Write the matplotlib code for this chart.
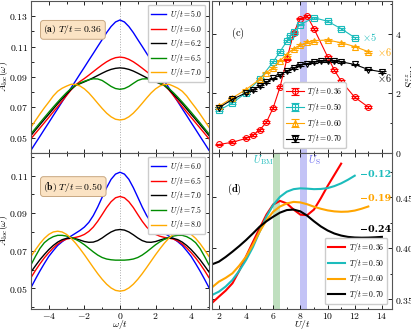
import numpy as np
import matplotlib
matplotlib.use("Agg")
import matplotlib.pyplot as plt
from matplotlib.ticker import MultipleLocator, FixedLocator, FuncFormatter

plt.rcParams['mathtext.fontset'] = 'cm'
plt.rcParams['font.family'] = 'DejaVu Serif'

# ---------- data ----------
# spectral functions, half of the (symmetric) curve, w >= 0
w_half = [0, 0.25, 0.5, 0.75, 1.0, 1.25, 1.5, 1.75, 2.0, 2.25, 2.5,
          2.75, 3.0, 3.25, 3.5, 3.75, 4.0, 4.25, 4.5, 4.75, 5.0]

a_U = ["5.0", "6.0", "6.2", "6.5", "7.0"]
a_A = [
    [0.1275, 0.1262, 0.1232, 0.1192, 0.1146, 0.1101, 0.1055, 0.1010, 0.0964, 0.0919, 0.0873,
     0.0828, 0.0782, 0.0737, 0.0691, 0.0646, 0.0600, 0.0555, 0.0509, 0.0464, 0.0418],
    [0.1031, 0.1027, 0.1016, 0.1000, 0.0980, 0.0958, 0.0935, 0.0912, 0.0890, 0.0870, 0.0847,
     0.0815, 0.0778, 0.0741, 0.0705, 0.0670, 0.0634, 0.0599, 0.0564, 0.0529, 0.0494],
    [0.0960, 0.0957, 0.0950, 0.0939, 0.0925, 0.0910, 0.0895, 0.0881, 0.0868, 0.0856, 0.0843,
     0.0818, 0.0788, 0.0757, 0.0724, 0.0690, 0.0655, 0.0621, 0.0586, 0.0551, 0.0515],
    [0.0819, 0.0824, 0.0838, 0.0858, 0.0877, 0.0887, 0.0888, 0.0882, 0.0872, 0.0860, 0.0846,
     0.0824, 0.0797, 0.0767, 0.0735, 0.0702, 0.0668, 0.0633, 0.0598, 0.0562, 0.0526],
    [0.0617, 0.0622, 0.0638, 0.0662, 0.0693, 0.0727, 0.0762, 0.0795, 0.0822, 0.0841, 0.0851,
     0.0852, 0.0840, 0.0826, 0.0806, 0.0775, 0.0735, 0.0697, 0.0656, 0.0613, 0.0570],
]

b_U = ["6.0", "6.5", "7.0", "7.5", "8.0"]
b_A = [
    [0.1118, 0.1108, 0.1080, 0.1036, 0.0985, 0.0933, 0.0887, 0.0851, 0.0826, 0.0808, 0.0793,
     0.0778, 0.0765, 0.0748, 0.0728, 0.0700, 0.0670, 0.0632, 0.0592, 0.0549, 0.0504],
    [0.0989, 0.0982, 0.0961, 0.0930, 0.0893, 0.0857, 0.0826, 0.0803, 0.0787, 0.0777, 0.0771,
     0.0767, 0.0762, 0.0752, 0.0736, 0.0715, 0.0690, 0.0662, 0.0630, 0.0595, 0.0557],
    [0.0813, 0.0810, 0.0800, 0.0785, 0.0768, 0.0754, 0.0746, 0.0745, 0.0749, 0.0757, 0.0764,
     0.0767, 0.0766, 0.0759, 0.0746, 0.0728, 0.0706, 0.0680, 0.0652, 0.0620, 0.0587],
    [0.0650, 0.0650, 0.0652, 0.0656, 0.0664, 0.0677, 0.0694, 0.0713, 0.0732, 0.0748, 0.0761,
     0.0771, 0.0778, 0.0782, 0.0782, 0.0775, 0.0762, 0.0743, 0.0712, 0.0670, 0.0625],
    [0.0485, 0.0489, 0.0502, 0.0522, 0.0548, 0.0578, 0.0611, 0.0645, 0.0679, 0.0711, 0.0741,
     0.0767, 0.0787, 0.0800, 0.0804, 0.0800, 0.0787, 0.0766, 0.0738, 0.0705, 0.0670],
]
a_ticks = [0.05, 0.07, 0.09, 0.11, 0.13]
b_ticks = [0.05, 0.07, 0.09, 0.11]

# AFM structure factor (panel c)
c_T = ["0.36", "0.50", "0.60", "0.70"]
c_U = [
    [2, 3, 4, 4.5, 5, 5.5, 6, 6.5, 7, 7.5, 8, 8.5, 9, 10, 10.5, 11, 12, 13],
    [2, 3, 4, 5, 6, 6.5, 7, 7.25, 7.5, 8, 9, 10, 11, 12],
    [2, 3, 4, 5, 5.5, 6, 6.5, 7, 7.5, 8, 8.5, 9, 10, 11, 12, 13],
    [2, 3, 4, 4.5, 5, 5.5, 6, 6.5, 7, 7.5, 8, 8.5, 9, 9.5, 10, 10.5, 11, 12, 13, 14],
]
c_S = [
    [0.285, 0.36, 0.49, 0.60, 0.77, 1.03, 1.52, 2.21, 3.14, 4.03, 4.51, 4.59, 4.17, 3.23, 2.78, 2.41, 1.87, 1.54],
    [1.43, 1.68, 2.02, 2.47, 3.06, 3.40, 3.75, 3.92, 4.05, 4.31, 4.54, 4.42, 4.17, 3.87],
    [1.57, 1.85, 2.13, 2.47, 2.70, 2.86, 3.10, 3.30, 3.50, 3.62, 3.72, 3.77, 3.79, 3.70, 3.57, 3.40],
    [1.52, 1.80, 2.02, 2.12, 2.25, 2.37, 2.50, 2.62, 2.75, 2.85, 2.95, 3.00, 3.06, 3.08, 3.08, 3.08, 3.06, 2.97, 2.80, 2.72],
]
c_err = 0.03
c_scale = ["", r"$\times 5$", r"$\times 6$", r"$\times 6$"]
c_scale_pos = [None, (13.05, 3.9), (14.2, 3.4), (14.2, 2.53)]

# entropy per site (panel d)
d_U = [
    [1.5, 2.0, 2.5, 3.0, 3.5, 4.0, 4.5, 5.0, 5.5, 6.0, 6.5, 7.0, 7.5, 8.0, 8.5, 9.0, 9.5, 10.0, 10.5, 11.0],
    [1.5, 2.0, 2.5, 3.0, 3.5, 4.0, 4.5, 5.0, 5.5, 6.0, 6.5, 7.0, 7.5, 8.0, 8.5, 9.0, 9.5, 10.0, 10.5, 11.0, 11.5, 12.0],
    [1.5, 2.0, 2.5, 3.0, 3.5, 4.0, 4.5, 5.0, 5.5, 6.0, 6.5, 7.0, 7.5, 8.0, 8.5, 9.0, 9.5, 10.0, 10.5, 11.0, 11.5, 12.0, 12.5, 13.0],
    [1.5, 2.0, 2.5, 3.0, 3.5, 4.0, 4.5, 5.0, 5.5, 6.0, 6.5, 7.0, 7.5, 8.0, 8.5, 9.0, 9.5, 10.0, 10.5, 11.0, 11.5, 12.0, 12.5, 13.0, 13.5, 14.0],
]
d_S = [
    [0.3465, 0.3526, 0.3585, 0.3657, 0.3780, 0.3920, 0.4060, 0.4196, 0.4330, 0.4430, 0.4465, 0.4440, 0.4380, 0.4330,
     0.4325, 0.4380, 0.4490, 0.4610, 0.4720, 0.4830],
    [0.3542, 0.3575, 0.3625, 0.3690, 0.3780, 0.3885, 0.4010, 0.4163, 0.4310, 0.4425, 0.4505, 0.4555, 0.4580, 0.4588,
     0.4585, 0.4580, 0.4582, 0.4590, 0.4610, 0.4637, 0.4672, 0.4712],
    [0.3618, 0.3673, 0.3710, 0.3755, 0.3830, 0.3918, 0.4035, 0.4163, 0.4275, 0.4359, 0.4410, 0.4440, 0.4455, 0.4450,
     0.4432, 0.4408, 0.4388, 0.4372, 0.4362, 0.4358, 0.4360, 0.4370, 0.4388, 0.4410],
    [0.3843, 0.3869, 0.3915, 0.3967, 0.4022, 0.4081, 0.4145, 0.4212, 0.4265, 0.4310, 0.4350, 0.4375, 0.4380, 0.4362,
     0.4320, 0.4265, 0.4215, 0.4175, 0.4145, 0.4125, 0.4112, 0.4106, 0.4104, 0.4105, 0.4108, 0.4112],
]
d_labels = ["", "\u22120.12", "\u22120.19", "\u22120.24"]
d_label_y = [0, 0.4728, 0.449, 0.418]

U_BM = (6.0, 6.5)
U_S = (8.0, 8.5)

curve_colors = ["#0000ff", "#ff0000", "#000000", "#008c00", "#ffaa00"]
T_colors = ["#ff0000", "#1cbcbc", "#ffa500", "#000000"]
T_markers = ["o", "s", "^", "v"]

# ---------- figure ----------
fig = plt.figure(figsize=(4.11, 3.29), dpi=100)
ax_a = fig.add_axes([0.0754, 0.535, 0.433, 0.462])
ax_b = fig.add_axes([0.0754, 0.0608, 0.433, 0.474])
ax_c = fig.add_axes([0.516, 0.535, 0.438, 0.462])
ax_d = fig.add_axes([0.516, 0.0608, 0.438, 0.474])

math_fmt = FuncFormatter(lambda v, p: "$%g$" % v)
fmt2 = FuncFormatter(lambda v, p: "$%.2f$" % v)

w_full = [-x for x in w_half[::-1]] + w_half[1:]


def full(vals):
    return vals[::-1] + vals[1:]


def style(ax):
    ax.tick_params(direction="in", which="both", top=True, right=True, labelsize=7,
                   length=3, width=0.6, pad=2)
    ax.tick_params(axis="x", pad=1.5)
    ax.tick_params(which="minor", length=1.8)
    for s in ax.spines.values():
        s.set_color("#555555")
        s.set_linewidth(0.8)


box = dict(boxstyle="round,pad=0.3", facecolor="#fbe3c4", edgecolor="#c8a882", linewidth=0.7)

for ax, Us, As, tag, T, ylim, ticks, ty in [(ax_a, a_U, a_A, "a", "0.36", (0.04, 0.14), a_ticks, 0.81),
                                             (ax_b, b_U, b_A, "b", "0.50", (0.039, 0.122), b_ticks, 0.785)]:
    for U, A, col in zip(Us, As, curve_colors):
        ax.plot(w_full, full(A), color=col, lw=1.0, label=r"$U/t = %s$" % U)
    ax.axvline(0, color="#aaaaaa", lw=0.7, ls=":", zorder=0)
    ax.set_xlim(-5, 5)
    ax.set_ylim(*ylim)
    ax.xaxis.set_major_locator(MultipleLocator(2))
    ax.xaxis.set_minor_locator(MultipleLocator(1))
    ax.yaxis.set_major_locator(FixedLocator(ticks))
    ax.yaxis.set_major_formatter(fmt2)
    ax.yaxis.set_minor_locator(MultipleLocator(0.01))
    ax.xaxis.set_major_formatter(math_fmt)
    ax.set_ylabel(r"$A_{\rm loc}(\omega)$", fontsize=7)
    ax.yaxis.set_label_coords(-0.118, 0.5)
    style(ax)
    ax.legend(loc="upper right", fontsize=5.6, handlelength=1.9, handletextpad=0.5,
              labelspacing=0.2, borderpad=0.4, framealpha=1, edgecolor="#cccccc",
              borderaxespad=0.5)
    ax.text(0.07, ty, r"$(\mathbf{%s})\ T/t = %s$" % (tag, T),
            transform=ax.transAxes, fontsize=7, va="center", ha="left", bbox=box)

ax_a.tick_params(labelbottom=False)
ax_b.set_xlabel(r"$\omega/t$", fontsize=7)
ax_b.xaxis.set_label_coords(0.5, -0.06)

# panel c
ax_c.axvspan(*U_S, color="#b4b4f4", alpha=0.8, lw=0, zorder=0)
for U, S, T, col, mk in zip(c_U, c_S, c_T, T_colors, T_markers):
    ax_c.errorbar(U, S, yerr=c_err, color=col, marker=mk, ms=4.2, mfc="none", mew=0.8,
                  lw=0.8, capsize=3, capthick=0.8, elinewidth=0.8, label=r"$T/t = %s$" % T)
for lab, col, pos in zip(c_scale, T_colors, c_scale_pos):
    if lab:
        ax_c.text(pos[0], pos[1], lab, color=col, fontsize=7.5, va="center", ha="center")
ax_c.set_xlim(1.5, 14.75)
ax_c.set_ylim(0, 5.1)
ax_c.xaxis.set_major_locator(MultipleLocator(2))
ax_c.xaxis.set_minor_locator(MultipleLocator(1))
ax_c.yaxis.set_major_locator(MultipleLocator(2))
ax_c.yaxis.set_minor_locator(MultipleLocator(1))
ax_c.yaxis.set_major_formatter(math_fmt)
ax_c.yaxis.tick_right()
ax_c.yaxis.set_label_position("right")
ax_c.set_ylabel(r"$S^{zz}_{\rm AFM}$", fontsize=7.5, labelpad=2)
style(ax_c)
ax_c.tick_params(labelbottom=False, labelleft=False, labelright=True, left=True)
ax_c.text(2.9, 4.0, r"$(\mathrm{c})$", fontsize=7.5, va="center")
ax_c.legend(loc="lower center", bbox_to_anchor=(0.57, 0.03), fontsize=5.6, handlelength=2.2,
            handletextpad=0.5, labelspacing=0.35, borderpad=0.4, framealpha=1, edgecolor="#cccccc",
            borderaxespad=0)

# panel d
ax_d.axvspan(*U_BM, color="#b0d8b0", alpha=0.8, lw=0, zorder=0)
ax_d.axvspan(*U_S, color="#b4b4f4", alpha=0.8, lw=0, zorder=0)
for U, S, T, col in zip(d_U, d_S, c_T, T_colors):
    ax_d.plot(U, S, color=col, lw=1.5, label=r"$T/t = %s$" % T)
for lab, col, y in zip(d_labels, T_colors, d_label_y):
    if lab:
        ax_d.text(12.4, y, lab, color=col, fontsize=6.8, fontweight="bold", va="center", ha="left")
ax_d.text(5.3, 0.486, r"$U_{\rm BM}$", color="#1cbcbc", fontsize=7.5, va="center", ha="center")
ax_d.text(9.0, 0.486, r"$U_{\rm S}$", color="#6666ee", fontsize=7.5, va="center", ha="center")
ax_d.text(3.15, 0.4575, r"$(\mathbf{d})$", fontsize=7.5, va="center", ha="center")
ax_d.set_xlim(1.5, 14.75)
ax_d.set_ylim(0.3405, 0.4934)
ax_d.xaxis.set_major_locator(MultipleLocator(2))
ax_d.xaxis.set_minor_locator(MultipleLocator(1))
ax_d.xaxis.set_major_formatter(math_fmt)
ax_d.yaxis.set_major_locator(MultipleLocator(0.05))
ax_d.yaxis.set_minor_locator(MultipleLocator(0.025))
ax_d.yaxis.set_major_formatter(fmt2)
ax_d.yaxis.tick_right()
ax_d.yaxis.set_label_position("right")
ax_d.set_ylabel(r"$S/N_s$", fontsize=7.5, labelpad=2)
ax_d.set_xlabel(r"$U/t$", fontsize=7)
ax_d.xaxis.set_label_coords(0.5, -0.06)
style(ax_d)
ax_d.tick_params(labelleft=False, labelright=True, left=True)
ax_d.legend(loc="lower right", fontsize=5.6, handlelength=2.2, handletextpad=0.5,
            labelspacing=0.35, borderpad=0.4, framealpha=1, edgecolor="#cccccc",
            borderaxespad=0.6)

fig.savefig("out.png", dpi=100)
